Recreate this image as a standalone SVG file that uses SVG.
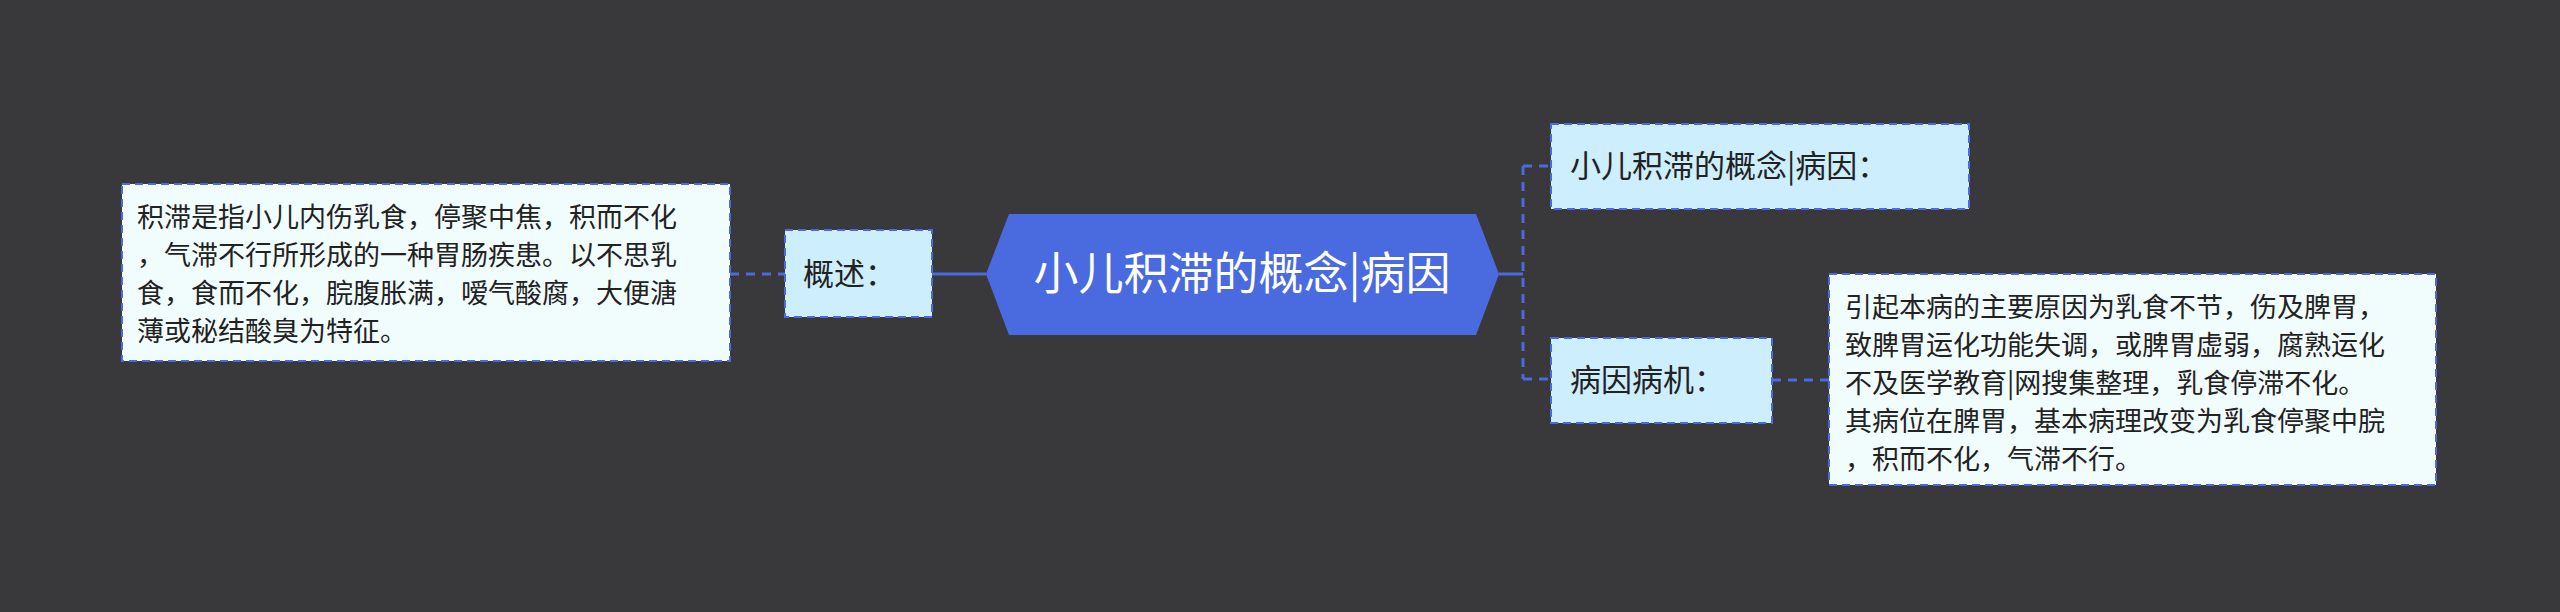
<svg xmlns="http://www.w3.org/2000/svg" width="2560" height="612" viewBox="0 0 2560 612">
<style>
text{font-family:"Noto Sans CJK SC","Noto Sans",sans-serif;fill:#222}
.sub{fill:#cdeefd;stroke:#4a6be0;stroke-width:2;stroke-dasharray:8 5}
.leaf{fill:#f1fcfd;stroke:#4a6be0;stroke-width:2;stroke-dasharray:8 5}
.c{fill:none;stroke:#4a6be0;stroke-width:3}
.d{stroke-dasharray:9 7}
.t{font-size:31px}
.s{font-size:27px}
</style>
<rect width="2560" height="612" fill="#39383a"/>
<g id="connectors">
<path class="c d" d="M730 274H785"/>
<path class="c" d="M932 274H986"/>
<path class="c" d="M1499 274H1523"/>
<path class="c d" d="M1523 166V379M1523 166H1551M1523 379H1551"/>
<path class="c d" d="M1772 380H1829"/>
</g>
<g id="center">
<polygon points="986,274 1009,214 1476,214 1499,274 1476,335 1009,335" fill="#4a6be0"/>
<text x="1242" y="290" text-anchor="middle" style="font-size:45px;fill:#fff">小儿积滞的概念|病因</text>
</g>
<g id="n-gaishu">
<rect class="sub" x="785" y="230" width="147" height="87"/>
<text class="t" x="803" y="285">概述：</text>
</g>
<g id="n-gaishu-text">
<rect class="leaf" x="122" y="184" width="608" height="177"/>
<text class="s"><tspan x="137" y="227">积滞是指小儿内伤乳食，停聚中焦，积而不化</tspan><tspan x="137" y="265">，气滞不行所形成的一种胃肠疾患。以不思乳</tspan><tspan x="137" y="303">食，食而不化，脘腹胀满，嗳气酸腐，大便溏</tspan><tspan x="137" y="341">薄或秘结酸臭为特征。</tspan></text>
</g>
<g id="n-bingyin">
<rect class="sub" x="1551" y="124" width="418" height="85"/>
<text class="t" x="1570" y="177">小儿积滞的概念|病因：</text>
</g>
<g id="n-bingji">
<rect class="sub" x="1551" y="338" width="221" height="85"/>
<text class="t" x="1570" y="391">病因病机：</text>
</g>
<g id="n-bingji-text">
<rect class="leaf" x="1829" y="274" width="607" height="211"/>
<text class="s"><tspan x="1845" y="317">引起本病的主要原因为乳食不节，伤及脾胃，</tspan><tspan x="1845" y="355">致脾胃运化功能失调，或脾胃虚弱，腐熟运化</tspan><tspan x="1845" y="393">不及医学教育|网搜集整理，乳食停滞不化。</tspan><tspan x="1845" y="431">其病位在脾胃，基本病理改变为乳食停聚中脘</tspan><tspan x="1845" y="469">，积而不化，气滞不行。</tspan></text>
</g>
</svg>
